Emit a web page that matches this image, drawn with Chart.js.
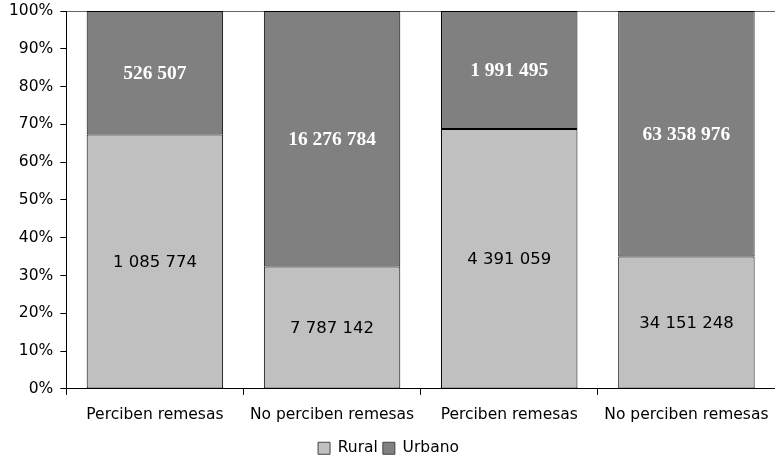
<!DOCTYPE html>
<html lang="es">
<head>
<meta charset="UTF-8">
<title>Remesas rural / urbano</title>
<script src="https://cdn.jsdelivr.net/npm/chart.js"></script>
<style>
  html, body { margin: 0; padding: 0; background: #fff; overflow: hidden; }
  #wrap { width: 775px; height: 458px; }
</style>
</head>
<body>
<div id="wrap"><canvas id="c"></canvas></div>
<script>
  const categories = ['Perciben remesas', 'No perciben remesas', 'Perciben remesas', 'No perciben remesas'];
  const rural = [1085774, 7787142, 4391059, 34151248];
  const urbano = [526507, 16276784, 1991495, 63358976];
  const yTicks = [0, 10, 20, 30, 40, 50, 60, 70, 80, 90, 100];

  // shares for the 100% stack
  const ruralPct = rural.map((v, i) => v / (v + urbano[i]) * 100);
  const urbanoPct = urbano.map((v, i) => v / (rural[i] + v) * 100);

  const fmt = n => String(n).replace(/\B(?=(\d{3})+(?!\d))/g, ' ');
  const axisFont = { family: 'DejaVu Sans', size: 15.5 };

  // etiquetas dentro de las barras
  const barLabels = {
    id: 'barLabels',
    afterDatasetsDraw(chart) {
      const ctx = chart.ctx;
      ctx.save();
      ctx.textAlign = 'center';
      ctx.textBaseline = 'middle';
      chart.data.datasets.forEach((ds, di) => {
        const meta = chart.getDatasetMeta(di);
        const raw = di === 0 ? rural : urbano;
        meta.data.forEach((bar, i) => {
          const mid = (bar.y + bar.base) / 2;
          if (di === 0) {
            ctx.font = '16.5px "DejaVu Sans"';
            ctx.fillStyle = '#000';
          } else {
            ctx.font = 'bold 19.5px "Liberation Serif"';
            ctx.fillStyle = '#fff';
          }
          ctx.fillText(fmt(raw[i]), bar.x, mid + 1);
        });
      });
      ctx.restore();
    }
  };

  new Chart(document.getElementById('c'), {
    type: 'bar',
    data: {
      labels: categories,
      datasets: [
        {
          label: 'Rural',
          data: ruralPct,
          backgroundColor: '#c0c0c0',
          borderColor: '#000',
          borderWidth: 1,
          borderSkipped: false,
          categoryPercentage: 1,
          barPercentage: 0.77
        },
        {
          label: 'Urbano',
          data: urbanoPct,
          backgroundColor: '#808080',
          borderColor: '#000',
          borderWidth: 1,
          borderSkipped: false,
          categoryPercentage: 1,
          barPercentage: 0.77
        }
      ]
    },
    options: {
      responsive: true,
      maintainAspectRatio: false,
      animation: false,
      layout: { padding: { top: 0, right: 0, left: 2, bottom: -8 } },
      plugins: {
        tooltip: { enabled: false },
        legend: {
          position: 'bottom',
          labels: {
            color: '#000',
            font: axisFont,
            boxWidth: 12,
            boxHeight: 12,
            padding: 5,
            generateLabels(chart) {
              return chart.data.datasets.map((ds, i) => ({
                text: ds.label,
                fillStyle: ds.backgroundColor,
                strokeStyle: '#444',
                lineWidth: 1,
                datasetIndex: i
              }));
            }
          }
        }
      },
      scales: {
        x: {
          stacked: true,
          afterFit(scale) {
            scale.paddingLeft = 0;
            scale.paddingRight = 0;
          },
          grid: {
            offset: true,
            drawOnChartArea: false,
            tickLength: 6,
            tickColor: '#000'
          },
          border: { display: true, color: '#000', width: 1 },
          ticks: {
            color: '#000',
            font: axisFont,
            padding: 11,
            maxRotation: 0
          }
        },
        y: {
          stacked: true,
          min: 0,
          max: 100,
          afterBuildTicks(axis) {
            axis.ticks = yTicks.map(v => ({ value: v }));
          },
          afterFit(scale) {
            scale.paddingTop = 11;
          },
          grid: {
            color: c => (c.tick && c.tick.value === 100) ? '#666' : 'rgba(0,0,0,0)',
            tickColor: '#000',
            tickLength: 6
          },
          border: { display: true, color: '#000', width: 1 },
          ticks: {
            color: '#000',
            font: axisFont,
            padding: 7,
            callback: v => v + '%'
          }
        }
      }
    },
    plugins: [barLabels]
  });
</script>
</body>
</html>
